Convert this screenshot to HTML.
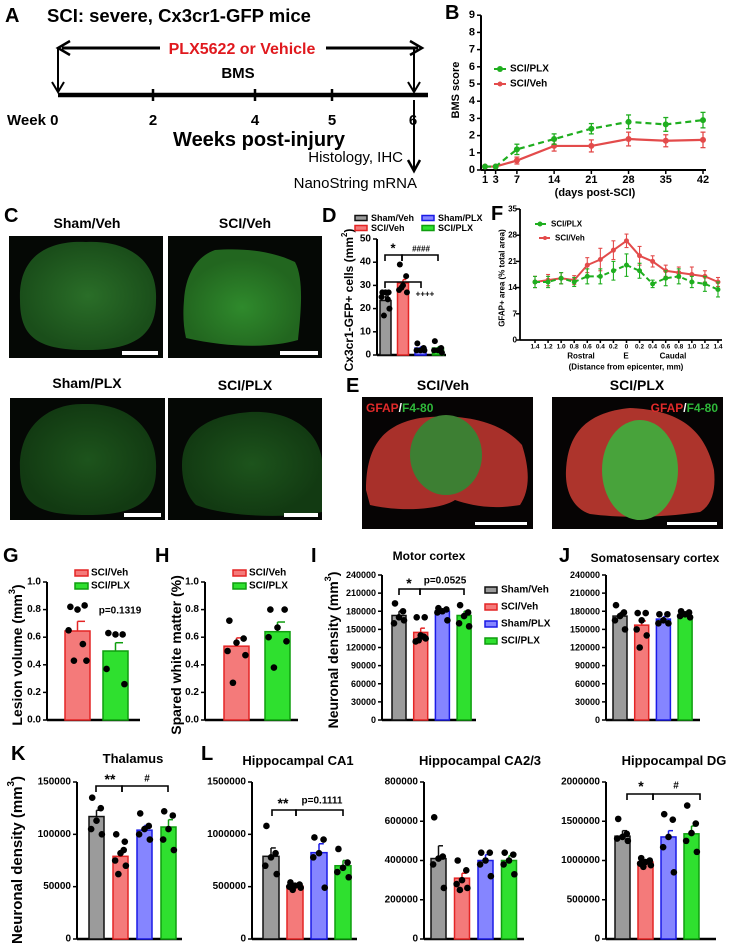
<!DOCTYPE html>
<html><head><meta charset="utf-8">
<style>
html,body{margin:0;padding:0;background:#fff;}
svg{display:block;font-family:"Liberation Sans",Arial,sans-serif;}
</style></head>
<body>
<svg id="fig" width="731" height="949" viewBox="0 0 731 949" xmlns="http://www.w3.org/2000/svg">
<defs>
<radialGradient id="gC1" cx="50%" cy="50%" r="50%"><stop offset="0" stop-color="#2a6e28"/><stop offset="1" stop-color="#1a4e1a"/></radialGradient>
<radialGradient id="gC2" cx="50%" cy="60%" r="50%"><stop offset="0" stop-color="#2f8a2c"/><stop offset="1" stop-color="#22661f"/></radialGradient>
<radialGradient id="gC3" cx="50%" cy="50%" r="50%"><stop offset="0" stop-color="#1d541c"/><stop offset="1" stop-color="#123a12"/></radialGradient>
</defs>
<!-- Panel A -->
<g>
<text x="5" y="22" font-size="20" font-weight="bold">A</text>
<text x="47" y="22" font-size="18.5" font-weight="bold">SCI: severe, Cx3cr1-GFP mice</text>
<line x1="62" y1="48" x2="160" y2="48" stroke="#000" stroke-width="3"/>
<line x1="326" y1="48" x2="418" y2="48" stroke="#000" stroke-width="3"/>
<path d="M70,41 L58,48 L70,55" fill="none" stroke="#000" stroke-width="2.5"/>
<path d="M410,41 L422,48 L410,55" fill="none" stroke="#000" stroke-width="2.5"/>
<text x="242" y="54" font-size="16" font-weight="bold" fill="#e0191e" text-anchor="middle">PLX5622 or Vehicle</text>
<text x="238" y="78" font-size="15" font-weight="bold" text-anchor="middle">BMS</text>
<line x1="58" y1="48" x2="58" y2="92" stroke="#000" stroke-width="2"/>
<path d="M52,82 L58,92 L64,82" fill="none" stroke="#000" stroke-width="2"/>
<line x1="414" y1="48" x2="414" y2="92" stroke="#000" stroke-width="2"/>
<path d="M408,82 L414,92 L420,82" fill="none" stroke="#000" stroke-width="2"/>
<line x1="58" y1="95" x2="428" y2="95" stroke="#000" stroke-width="4.5"/>
<g stroke="#000" stroke-width="2.5">
<line x1="153" y1="89" x2="153" y2="101"/><line x1="255" y1="89" x2="255" y2="101"/><line x1="332" y1="89" x2="332" y2="101"/>
</g>
<text x="7" y="125" font-size="15" font-weight="bold">Week 0</text>
<text x="153" y="125" font-size="15" font-weight="bold" text-anchor="middle">2</text>
<text x="255" y="125" font-size="15" font-weight="bold" text-anchor="middle">4</text>
<text x="332" y="125" font-size="15" font-weight="bold" text-anchor="middle">5</text>
<text x="413" y="125" font-size="15" font-weight="bold" text-anchor="middle">6</text>
<text x="259" y="146" font-size="20" font-weight="bold" text-anchor="middle">Weeks post-injury</text>
<line x1="414" y1="100" x2="414" y2="170" stroke="#000" stroke-width="2"/>
<path d="M408,160 L414,171 L420,160" fill="none" stroke="#000" stroke-width="2.5"/>
<text x="403" y="162" font-size="15" text-anchor="end">Histology, IHC</text>
<text x="417" y="188" font-size="15" text-anchor="end">NanoString mRNA</text>
</g>

<!-- Panel C images -->
<g>
<text x="4" y="222" font-size="20" font-weight="bold">C</text>
<text x="87" y="228" font-size="14" font-weight="bold" text-anchor="middle">Sham/Veh</text>
<text x="245" y="228" font-size="14" font-weight="bold" text-anchor="middle">SCI/Veh</text>
<text x="87" y="388" font-size="14" font-weight="bold" text-anchor="middle">Sham/PLX</text>
<text x="245" y="390" font-size="14" font-weight="bold" text-anchor="middle">SCI/PLX</text>
<rect x="9" y="236" width="154" height="122" fill="#050805"/>
<path d="M20,300 C18,255 50,240 86,242 C125,240 158,258 156,300 C156,335 135,350 86,350 C35,350 20,335 20,300 Z" fill="url(#gC1)"/>
<rect x="122" y="351" width="36" height="4" fill="#fff"/>
<rect x="168" y="236" width="154" height="122" fill="#050805"/>
<path d="M184,300 C186,270 200,255 215,250 C240,248 270,250 295,262 C305,280 300,320 298,340 C270,348 230,348 186,338 C183,325 183,312 184,300 Z" fill="url(#gC2)"/>
<rect x="280" y="351" width="38" height="4" fill="#fff"/>
<rect x="10" y="398" width="155" height="122" fill="#050805"/>
<path d="M20,470 C18,430 45,403 85,404 C130,403 158,430 156,470 C156,505 130,515 86,515 C40,515 20,505 20,470 Z" fill="url(#gC3)"/>
<rect x="124" y="513" width="37" height="4" fill="#fff"/>
<rect x="168" y="398" width="154" height="122" fill="#050805"/>
<path d="M182,465 C182,430 210,415 250,412 C290,410 318,430 322,460 L322,512 C290,518 230,518 196,505 C186,495 182,480 182,465 Z" fill="url(#gC3)"/>
<rect x="284" y="513" width="34" height="4" fill="#fff"/>
</g>

<!-- Panel E images -->
<g>
<text x="346" y="392" font-size="20" font-weight="bold">E</text>
<text x="443" y="390" font-size="14" font-weight="bold" text-anchor="middle">SCI/Veh</text>
<text x="637" y="390" font-size="14" font-weight="bold" text-anchor="middle">SCI/PLX</text>
<rect x="362" y="397" width="171" height="132" fill="#060404"/>
<path d="M366,490 C366,450 380,425 420,418 C460,413 500,420 522,445 C530,470 530,490 520,505 C490,510 470,505 455,500 C440,510 400,512 370,505 Z" fill="#a8302a"/>
<ellipse cx="446" cy="455" rx="36" ry="40" fill="#3d7f33"/>
<rect x="552" y="397" width="171" height="132" fill="#060404"/>
<path d="M566,470 C568,430 590,412 630,408 C680,410 705,430 714,470 C716,490 712,505 700,512 C660,518 620,518 590,514 C572,508 565,490 566,470 Z" fill="#ad342c"/>
<ellipse cx="640" cy="470" rx="38" ry="50" fill="#48a33b"/>
<text x="366" y="412" font-size="12" font-weight="bold"><tspan fill="#e02a2a">GFAP</tspan><tspan fill="#fff">/</tspan><tspan fill="#2fb83a">F4-80</tspan></text>
<text x="718" y="412" font-size="12" font-weight="bold" text-anchor="end"><tspan fill="#e02a2a">GFAP</tspan><tspan fill="#fff">/</tspan><tspan fill="#2fb83a">F4-80</tspan></text>
<rect x="475" y="522" width="52" height="3" fill="#fff"/>
<rect x="667" y="522" width="50" height="3" fill="#fff"/>
</g>

<!-- static letters / titles -->
<text x="445" y="19" font-size="20" font-weight="bold">B</text>
<text x="322" y="222" font-size="20" font-weight="bold">D</text>
<text x="491" y="220" font-size="20" font-weight="bold">F</text>
<text x="3" y="562" font-size="20" font-weight="bold">G</text>
<text x="155" y="562" font-size="20" font-weight="bold">H</text>
<text x="311" y="562" font-size="20" font-weight="bold">I</text>
<text x="559" y="562" font-size="20" font-weight="bold">J</text>
<text x="11" y="760" font-size="20" font-weight="bold">K</text>
<text x="201" y="760" font-size="20" font-weight="bold">L</text>
<text x="429" y="560" font-size="12" font-weight="bold" text-anchor="middle">Motor cortex</text>
<text x="655" y="562" font-size="12" font-weight="bold" text-anchor="middle">Somatosensary cortex</text>
<text x="133" y="763" font-size="13" font-weight="bold" text-anchor="middle">Thalamus</text>
<text x="298" y="765" font-size="13" font-weight="bold" text-anchor="middle">Hippocampal CA1</text>
<text x="480" y="765" font-size="13" font-weight="bold" text-anchor="middle">Hippocampal CA2/3</text>
<text x="674" y="765" font-size="13" font-weight="bold" text-anchor="middle">Hippocampal DG</text>
</svg>

<script>
// ---------- DATA ----------
const bmsDays = [1, 3, 7, 14, 21, 28, 35, 42];
const bmsPlx = [0.2, 0.2, 1.2, 1.8, 2.4, 2.8, 2.65, 2.9];
const bmsPlxErr = [0.05, 0.05, 0.3, 0.3, 0.3, 0.4, 0.4, 0.45];
const bmsVeh = [0.2, 0.2, 0.55, 1.4, 1.4, 1.8, 1.7, 1.75];
const bmsVehErr = [0.05, 0.05, 0.2, 0.3, 0.35, 0.4, 0.35, 0.45];
const bmsTicks = [0, 1, 2, 3, 4, 5, 6, 7, 8, 9];

const gfapLabels = ["1.4","1.2","1.0","0.8","0.6","0.4","0.2","0","0.2","0.4","0.6","0.8","1.0","1.2","1.4"];
const gfapVeh = [15.5, 16, 16.5, 16, 20, 21.5, 24, 26.5, 22.5, 21, 18.5, 18, 17.5, 17, 15.5];
const gfapVehErr = [1.5, 1.5, 1.5, 1.2, 2, 3, 2.5, 1.8, 2.5, 1.5, 1.5, 1.5, 2, 1.5, 1.2];
const gfapPlx = [15.5, 15.5, 16.5, 15.5, 17, 17, 18.5, 20, 18.5, 15, 16.5, 17, 15.5, 15, 13.5];
const gfapPlxErr = [1.5, 1.5, 1.5, 1.2, 2, 2, 2.5, 3, 2, 1, 2, 2, 1.5, 2, 2];
const gfapTicks = [0, 7, 14, 21, 28, 35];

const grp4 = ["Sham/Veh", "SCI/Veh", "Sham/PLX", "SCI/PLX"];
const grp2 = ["SCI/Veh", "SCI/PLX"];

const dMeans = [23.5, 31, 3, 3];
const dErr = [2, 1.5, 0.6, 0.6];
const dDots = [[27,27,27,25,20,17,24],[39,34,30,28,27,29],[5,3,2,2,2],[6,3,2,2,1]];
const dTicks = [0, 10, 20, 30, 40, 50];

const gMeans = [0.645, 0.5];
const gErr = [0.07, 0.06];
const gDots = [[0.82,0.83,0.80,0.65,0.43,0.43,0.55],[0.63,0.62,0.62,0.37,0.26]];
const hMeans = [0.535, 0.64];
const hErr = [0.06, 0.07];
const hDots = [[0.72,0.59,0.56,0.50,0.47,0.27],[0.80,0.80,0.67,0.60,0.57,0.38]];
const ghTicks = [0, 0.2, 0.4, 0.6, 0.8, 1.0];
const ghTickLabels = ["0.0","0.2","0.4","0.6","0.8","1.0"];

const iMeans = [173000, 145000, 180000, 173000];
const iErr = [7000, 7000, 3000, 7000];
const iDots = [[193000,180000,170000,160000,165000],[170000,170000,140000,130000,135000,132000,138000],[185000,183000,180000,178000,165000],[190000,178000,172000,160000,155000]];
const jMeans = [172000, 157000, 167000, 172000];
const jErr = [6000, 7000, 4000, 2000];
const jDots = [[190000,178000,172000,165000,150000],[177000,177000,165000,150000,140000,120000],[175000,175000,165000,160000,160000],[180000,178000,175000,172000,170000]];
const ijTicks = [0, 30000, 60000, 90000, 120000, 150000, 180000, 210000, 240000];

const kMeans = [117000, 79000, 104000, 107000];
const kErr = [6000, 6000, 4500, 7000];
const kDots = [[135000,125000,113000,105000,100000],[100000,93000,82000,75000,70000,62000,85000],[120000,108000,105000,100000,95000],[122000,118000,105000,95000,85000]];
const kTicks = [0, 50000, 100000, 150000];

const ca1Means = [790000, 505000, 825000, 700000];
const ca1Err = [80000, 15000, 85000, 50000];
const ca1Dots = [[1080000,820000,780000,700000,620000],[540000,520000,510000,500000,490000,470000],[970000,950000,820000,780000,490000],[860000,730000,680000,640000,590000]];
const ca1Ticks = [0, 500000, 1000000, 1500000];
const ca23Means = [410000, 310000, 400000, 400000];
const ca23Err = [65000, 25000, 30000, 25000];
const ca23Dots = [[620000,420000,410000,380000,260000],[400000,350000,300000,280000,260000,250000],[440000,440000,400000,380000,320000],[440000,430000,400000,380000,330000]];
const ca23Ticks = [0, 200000, 400000, 600000, 800000];
const dgMeans = [1310000, 980000, 1300000, 1340000];
const dgErr = [70000, 25000, 80000, 100000];
const dgDots = [[1530000,1340000,1300000,1280000,1250000],[1030000,1000000,980000,960000,940000,920000],[1590000,1520000,1300000,1170000,850000],[1700000,1470000,1350000,1250000,1110000]];
const dgTicks = [0, 500000, 1000000, 1500000, 2000000];

// ---------- HELPERS ----------
const NS = 'http://www.w3.org/2000/svg';
const svg = document.getElementById('fig');
const COL = {
  "Sham/Veh": {fill: "#9b9b9b", stroke: "#111"},
  "SCI/Veh": {fill: "#f47a7a", stroke: "#e42525"},
  "Sham/PLX": {fill: "#8585ff", stroke: "#1a1ae6"},
  "SCI/PLX": {fill: "#2fe02f", stroke: "#0f9e0f"}
};
function mk(tag, attrs, name, parent) {
  const el = document.createElementNS(NS, tag);
  for (const k in attrs) el.setAttribute(k, attrs[k]);
  
  
  (parent || svg).appendChild(el);
  return el;
}
function txt(x, y, s, size, name, o) {
  o = o || {};
  const a = {x: x, y: y, 'font-size': size, 'font-weight': o.w || 'bold', 'text-anchor': o.a || 'middle', fill: o.c || '#000', 'dominant-baseline': 'central'};
  if (o.rot) a.transform = 'rotate(-90 ' + x + ' ' + y + ')';
  const el = mk('text', a, name);
  el.textContent = s;
  return el;
}
function rotLabel(x, y, main, sup, tail, size, name) {
  const el = mk('text', {x: x, y: y, 'font-size': size, 'font-weight': 'bold', 'text-anchor': 'middle', transform: 'rotate(-90 ' + x + ' ' + y + ')', 'dominant-baseline': 'central'}, name);
  const t1 = document.createElementNS(NS, 'tspan'); t1.textContent = main; el.appendChild(t1);
  if (sup) {
    const t2 = document.createElementNS(NS, 'tspan'); t2.setAttribute('baseline-shift', 'super'); t2.setAttribute('font-size', size * 0.65); t2.textContent = sup; el.appendChild(t2);
    const t3 = document.createElementNS(NS, 'tspan'); t3.textContent = tail; el.appendChild(t3);
  }
}
function line(x1, y1, x2, y2, name, stroke, w, dash) {
  const a = {x1: x1, y1: y1, x2: x2, y2: y2, stroke: stroke || '#000', 'stroke-width': w || 1.5};
  if (dash) a['stroke-dasharray'] = dash;
  return mk('line', a, name);
}
const jit = [-4, 4, 0, -5, 5, -2, 3];

function barChart(p) {
  const y = v => p.y0 - v / p.max * (p.y0 - p.yTop);
  line(p.ax, p.y0, p.ax, y(p.max), p.name + '-y-axis', '#000', 2);
  line(p.ax, p.y0, p.axEnd, p.y0, p.name + '-x-axis', '#000', 2.5);
  p.ticks.forEach((t, i) => {
    line(p.ax - 4, y(t), p.ax, y(t), p.name + '-y-tick', '#000', 1.5);
    txt(p.ax - 6, y(t), p.tickLabels ? p.tickLabels[i] : String(t), p.fs || 10, p.name + '-y-tick-label', {a: 'end'});
  });
  p.cats.forEach((c, i) => {
    const x0 = p.left + i * p.step, w = p.width, cx = x0 + w / 2;
    const col = COL[c];
    const top = y(p.vals[i]);
    mk('rect', {x: x0, y: top, width: w, height: p.y0 - top, fill: col.fill, stroke: col.stroke, 'stroke-width': 1.5}, p.name + '-bar-' + c.toLowerCase().replace('/', '-'));
    const et = y(p.vals[i] + p.errs[i]);
    line(cx, top, cx, et, p.name + '-error-bar', col.stroke, 1.5);
    line(cx, et, cx + w * 0.3, et, p.name + '-error-cap', col.stroke, 1.5);
    p.dots[i].forEach((v, j) => {
      mk('circle', {cx: cx + jit[j % jit.length] * w / 14, cy: y(v), r: p.r || 3.3, fill: '#000'}, p.name + '-data-point');
    });
  });
}
function bracket(x1, x2, yb, name) {
  mk('path', {d: 'M' + x1 + ',' + (yb + 6) + ' V' + yb + ' H' + x2 + ' V' + (yb + 6), fill: 'none', stroke: '#000', 'stroke-width': 1.6}, name);
}

// ---------- PANEL B ----------
(function () {
  const bx = d => 485 + (d - 1) * (703 - 485) / 41;
  const by = v => 170 - v * 17.2;
  line(481, 170, 481, by(9), 'b-y-axis', '#000', 2);
  line(481, 170, 706, 170, 'b-x-axis', '#000', 2);
  bmsTicks.forEach(t => { line(477, by(t), 481, by(t), 'b-y-tick'); txt(475, by(t), String(t), 11, 'b-y-tick-label', {a: 'end'}); });
  bmsDays.forEach(d => { line(bx(d), 170, bx(d), 174, 'b-x-tick'); txt(bx(d), 180, String(d), 11, 'b-x-tick-label'); });
  txt(595, 193, '(days post-SCI)', 11, 'b-x-axis-title');
  txt(456, 90, 'BMS score', 11, 'b-y-axis-title', {rot: true});
  function series(vals, errs, color, dash, nm) {
    const pts = bmsDays.map((d, i) => bx(d) + ',' + by(vals[i])).join(' ');
    mk('polyline', {points: pts, fill: 'none', stroke: color, 'stroke-width': 2.2, 'stroke-dasharray': dash || 'none'}, nm + '-line');
    bmsDays.forEach((d, i) => {
      line(bx(d), by(vals[i] - errs[i]), bx(d), by(vals[i] + errs[i]), nm + '-error-bar', color, 1.3);
      line(bx(d) - 2.5, by(vals[i] + errs[i]), bx(d) + 2.5, by(vals[i] + errs[i]), nm + '-error-cap', color, 1.3);
      line(bx(d) - 2.5, by(vals[i] - errs[i]), bx(d) + 2.5, by(vals[i] - errs[i]), nm + '-error-cap', color, 1.3);
      mk('circle', {cx: bx(d), cy: by(vals[i]), r: 3, fill: color}, nm + '-point');
    });
  }
  series(bmsVeh, bmsVehErr, '#e34b4b', null, 'b-sci-veh');
  series(bmsPlx, bmsPlxErr, '#1fae1f', '6,4', 'b-sci-plx');
  line(494, 69, 506, 69, 'b-legend-plx-swatch', '#1fae1f', 2); mk('circle', {cx: 500, cy: 69, r: 3, fill: '#1fae1f'}, 'b-legend-plx-marker');
  txt(510, 69, 'SCI/PLX', 10, 'b-legend-plx-label', {a: 'start'});
  line(494, 84, 506, 84, 'b-legend-veh-swatch', '#e34b4b', 2); mk('circle', {cx: 500, cy: 84, r: 2.5, fill: '#e34b4b'}, 'b-legend-veh-marker');
  txt(510, 84, 'SCI/Veh', 10, 'b-legend-veh-label', {a: 'start'});
})();

// ---------- PANEL F ----------
(function () {
  const fx = i => 535 + i * 13.07;
  const fy = v => 340 - v * (131 / 35);
  line(520, 340, 520, fy(35), 'f-y-axis', '#000', 1.8);
  line(520, 340, 722, 340, 'f-x-axis', '#000', 1.8);
  gfapTicks.forEach(t => { line(516, fy(t), 520, fy(t), 'f-y-tick'); txt(517, fy(t), String(t), 8, 'f-y-tick-label', {a: 'end'}); });
  gfapLabels.forEach((l, i) => { line(fx(i), 340, fx(i), 343, 'f-x-tick'); txt(fx(i), 347, l, 6.5, 'f-x-tick-label'); });
  txt(581, 356, 'Rostral', 8, 'f-rostral-label'); txt(626, 356, 'E', 8, 'f-epicenter-label'); txt(673, 356, 'Caudal', 8, 'f-caudal-label');
  txt(626, 367, '(Distance from epicenter, mm)', 8, 'f-x-axis-title');
  txt(502, 278, 'GFAP+ area (% total area)', 8, 'f-y-axis-title', {rot: true});
  function series(vals, errs, color, dash, nm) {
    mk('polyline', {points: vals.map((v, i) => fx(i) + ',' + fy(v)).join(' '), fill: 'none', stroke: color, 'stroke-width': 2, 'stroke-dasharray': dash || 'none'}, nm + '-line');
    vals.forEach((v, i) => {
      line(fx(i), fy(v - errs[i]), fx(i), fy(v + errs[i]), nm + '-error-bar', color, 1.1);
      line(fx(i) - 2, fy(v + errs[i]), fx(i) + 2, fy(v + errs[i]), nm + '-error-cap', color, 1.1);
      line(fx(i) - 2, fy(v - errs[i]), fx(i) + 2, fy(v - errs[i]), nm + '-error-cap', color, 1.1);
      mk('circle', {cx: fx(i), cy: fy(v), r: 2.5, fill: color}, nm + '-point');
    });
  }
  series(gfapVeh, gfapVehErr, '#e34b4b', null, 'f-sci-veh');
  series(gfapPlx, gfapPlxErr, '#1fae1f', '5,3', 'f-sci-plx');
  line(535, 224, 546, 224, 'f-legend-plx-swatch', '#1fae1f', 2); mk('circle', {cx: 540, cy: 224, r: 2.5, fill: '#1fae1f'}, 'f-legend-plx-marker');
  txt(551, 224, 'SCI/PLX', 8, 'f-legend-plx-label', {a: 'start'});
  line(539, 238, 550, 238, 'f-legend-veh-swatch', '#e34b4b', 2); mk('circle', {cx: 545, cy: 238, r: 2, fill: '#e34b4b'}, 'f-legend-veh-marker');
  txt(555, 238, 'SCI/Veh', 8, 'f-legend-veh-label', {a: 'start'});
})();

// ---------- PANEL D ----------
barChart({name: 'd', ax: 377, axEnd: 446, y0: 355, yTop: 239, max: 50, ticks: dTicks, cats: grp4, vals: dMeans, errs: dErr, dots: dDots, left: 380, step: 17.5, width: 11, fs: 10, r: 3});
rotLabel(349, 300, 'Cx3cr1-GFP+ cells (mm', '2', ')', 12, 'd-y-axis-title');
[['Sham/Veh', 355, 218], ['SCI/Veh', 355, 228], ['Sham/PLX', 422, 218], ['SCI/PLX', 422, 228]].forEach(e => {
  mk('rect', {x: e[1], y: e[2] - 2.5, width: 12, height: 5, fill: COL[e[0]].fill, stroke: COL[e[0]].stroke, 'stroke-width': 1.5}, 'd-legend-swatch');
  txt(e[1] + 16, e[2], e[0], 9, 'd-legend-label', {a: 'start'});
});
bracket(385, 402, 255, 'd-sig-bracket-1'); txt(393, 248, '*', 13, 'd-sig-star');
bracket(402, 438, 255, 'd-sig-bracket-2'); txt(421, 249, '####', 8, 'd-sig-hash');
bracket(385, 421, 282, 'd-sig-bracket-3'); txt(425, 294, '++++', 8, 'd-sig-plus');

// ---------- PANEL G / H ----------
barChart({name: 'g', ax: 47, axEnd: 140, y0: 720, yTop: 582, max: 1.0, ticks: ghTicks, tickLabels: ghTickLabels, cats: grp2, vals: gMeans, errs: gErr, dots: gDots, left: 65, step: 38, width: 25, fs: 10});
rotLabel(17, 655, 'Lesion volume (mm', '3', ')', 14, 'g-y-axis-title');
txt(120, 611, 'p=0.1319', 10, 'g-p-value');
barChart({name: 'h', ax: 205, axEnd: 298, y0: 720, yTop: 582, max: 1.0, ticks: ghTicks, tickLabels: ghTickLabels, cats: grp2, vals: hMeans, errs: hErr, dots: hDots, left: 224, step: 41, width: 25, fs: 10});
rotLabel(176, 655, 'Spared white matter (%)', null, null, 14, 'h-y-axis-title');
[['g', 75, 91], ['h', 233, 249]].forEach(p => {
  grp2.forEach((c, i) => {
    mk('rect', {x: p[1], y: 570 + i * 13, width: 13, height: 6, fill: COL[c].fill, stroke: COL[c].stroke, 'stroke-width': 1.5}, p[0] + '-legend-swatch');
    txt(p[2], 573 + i * 13, c, 10, p[0] + '-legend-label', {a: 'start'});
  });
});

// ---------- PANEL I / J ----------
barChart({name: 'i', ax: 382, axEnd: 476, y0: 720, yTop: 575, max: 240000, ticks: ijTicks, cats: grp4, vals: iMeans, errs: iErr, dots: iDots, left: 392, step: 21.7, width: 14, fs: 9});
rotLabel(333, 650, 'Neuronal density (mm', '3', ')', 14, 'i-y-axis-title');
bracket(399, 420, 589, 'i-sig-bracket-1'); txt(409, 583, '*', 14, 'i-sig-star');
bracket(420, 464, 589, 'i-sig-bracket-2'); txt(445, 581, 'p=0.0525', 10, 'i-p-value');
grp4.forEach((c, i) => {
  mk('rect', {x: 485, y: 587 + i * 17, width: 12, height: 6, fill: COL[c].fill, stroke: COL[c].stroke, 'stroke-width': 1.5}, 'i-legend-swatch');
  txt(501, 590 + i * 17, c, 10, 'i-legend-label', {a: 'start'});
});
barChart({name: 'j', ax: 606, axEnd: 700, y0: 720, yTop: 575, max: 240000, ticks: ijTicks, cats: grp4, vals: jMeans, errs: jErr, dots: jDots, left: 613, step: 21.7, width: 14, fs: 9});

// ---------- PANEL K / L ----------
barChart({name: 'k', ax: 77, axEnd: 182, y0: 939, yTop: 782, max: 150000, ticks: kTicks, cats: grp4, vals: kMeans, errs: kErr, dots: kDots, left: 89, step: 24, width: 15, fs: 10});
rotLabel(17, 860, 'Neuronal density (mm', '3', ')', 15, 'k-y-axis-title');
bracket(96, 122, 786, 'k-sig-bracket-1'); txt(110, 779, '**', 14, 'k-sig-stars');
bracket(122, 168, 786, 'k-sig-bracket-2'); txt(147, 779, '#', 10, 'k-sig-hash');
barChart({name: 'ca1', ax: 252, axEnd: 357, y0: 939, yTop: 782, max: 1500000, ticks: ca1Ticks, cats: grp4, vals: ca1Means, errs: ca1Err, dots: ca1Dots, left: 263, step: 24, width: 16, fs: 10});
bracket(272, 296, 810, 'ca1-sig-bracket-1'); txt(283, 803, '**', 14, 'ca1-sig-stars');
bracket(296, 343, 810, 'ca1-sig-bracket-2'); txt(322, 801, 'p=0.1111', 10, 'ca1-p-value');
barChart({name: 'ca23', ax: 424, axEnd: 524, y0: 939, yTop: 782, max: 800000, ticks: ca23Ticks, cats: grp4, vals: ca23Means, errs: ca23Err, dots: ca23Dots, left: 431, step: 23.5, width: 15, fs: 10});
barChart({name: 'dg', ax: 606, axEnd: 716, y0: 939, yTop: 782, max: 2000000, ticks: dgTicks, cats: grp4, vals: dgMeans, errs: dgErr, dots: dgDots, left: 615, step: 23, width: 15, fs: 10});
bracket(627, 653, 794, 'dg-sig-bracket-1'); txt(641, 786, '*', 14, 'dg-sig-star');
bracket(653, 700, 794, 'dg-sig-bracket-2'); txt(676, 786, '#', 10, 'dg-sig-hash');
</script>
</body></html>
